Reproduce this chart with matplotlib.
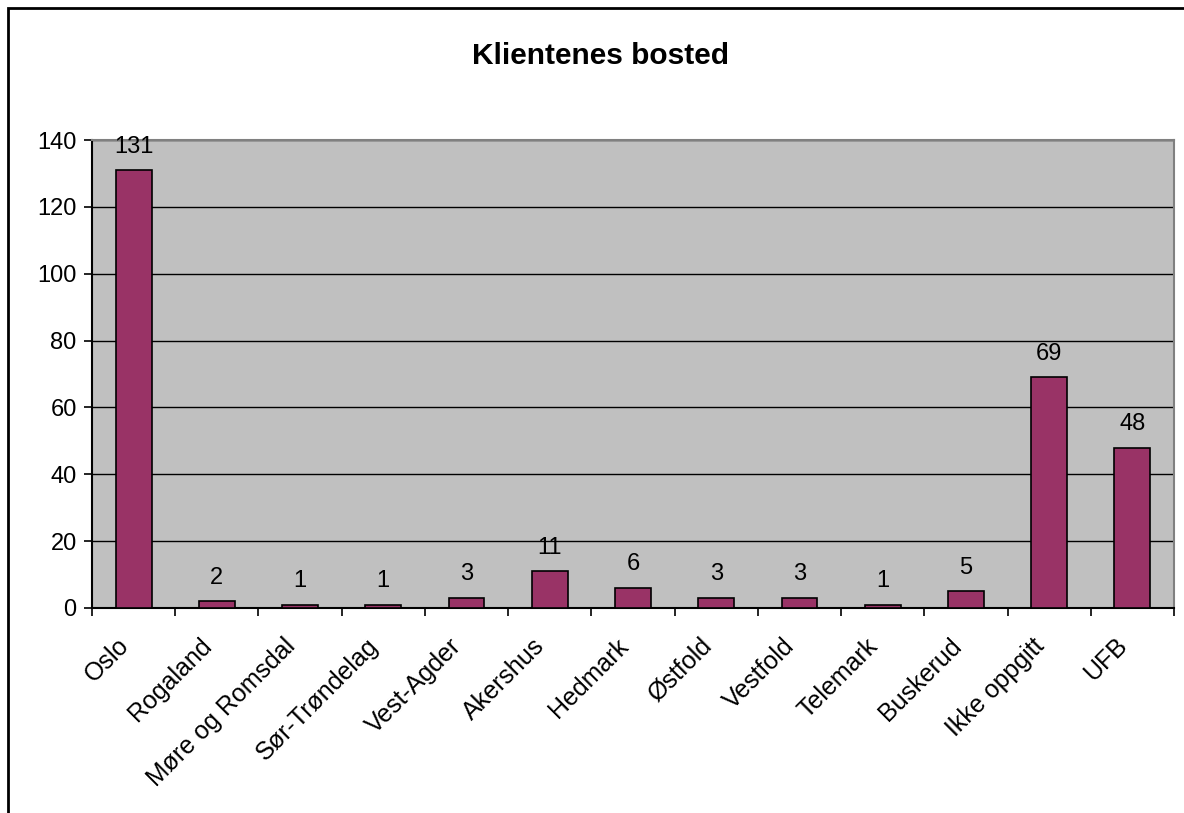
import matplotlib.pyplot as plt
from matplotlib.patches import Rectangle
from matplotlib.transforms import ScaledTranslation

plt.rcParams['font.family'] = ['Liberation Sans', 'DejaVu Sans']

categories = ["Oslo", "Rogaland", "Møre og Romsdal", "Sør-Trøndelag", "Vest-Agder",
              "Akershus", "Hedmark", "Østfold", "Vestfold", "Telemark", "Buskerud",
              "Ikke oppgitt", "UFB"]
values = [131, 2, 1, 1, 3, 11, 6, 3, 3, 1, 5, 69, 48]

fig = plt.figure(figsize=(11.84, 8.13), dpi=100)
# outer chart frame (cropped at right and bottom)
fig.patches.append(Rectangle((8 / 1184, -0.1), 1.2, 1 - 8 / 813 + 0.1,
                             transform=fig.transFigure, fill=False,
                             edgecolor='black', linewidth=2))

ax = fig.add_axes([92 / 1184, 1 - 608 / 813, (1174 - 92) / 1184, (608 - 140) / 813])
ax.set_facecolor('#C0C0C0')

x = list(range(len(categories)))
ax.bar(x, values, width=0.43, color='#993366', edgecolor='black', linewidth=1.2, zorder=3)
for xi, v in zip(x, values):
    ax.annotate(str(v), (xi, v), xytext=(0, 9), textcoords='offset points',
                ha='center', va='bottom', fontsize=17)

ax.set_xlim(-0.5, len(categories) - 0.5)
ax.set_ylim(0, 140)
ax.set_yticks(range(0, 141, 20))
ax.yaxis.grid(True, color='black', linewidth=1, zorder=1)
ax.set_axisbelow(True)

ax.set_xticks([i - 0.5 for i in range(len(categories) + 1)])
ax.set_xticklabels([])
ax.set_xticks(x, minor=True)
ax.set_xticklabels(categories, minor=True, rotation=45, ha='right',
                   rotation_mode='anchor', fontsize=18)
ax.tick_params(axis='x', which='minor', length=0, pad=12)
ax.tick_params(axis='x', which='major', length=6, width=1.2, direction='out')
ax.tick_params(axis='y', length=6, width=1.2, direction='out', labelsize=17, pad=5)

# nudge category labels left/down like the original
shift = ScaledTranslation(-0.17, -0.09, fig.dpi_scale_trans)
for lbl in ax.get_xticklabels(minor=True):
    lbl.set_transform(lbl.get_transform() + shift)

for s in ['top', 'right']:
    ax.spines[s].set_color('#808080')
    ax.spines[s].set_linewidth(1.5)
for s in ['left', 'bottom']:
    ax.spines[s].set_color('black')
    ax.spines[s].set_linewidth(1.5)

fig.text(600 / 1184, 1 - 56 / 813, "Klientenes bosted", ha='center', va='center',
         fontsize=21.5, fontweight='bold')

fig.savefig('out.png', dpi=100)
